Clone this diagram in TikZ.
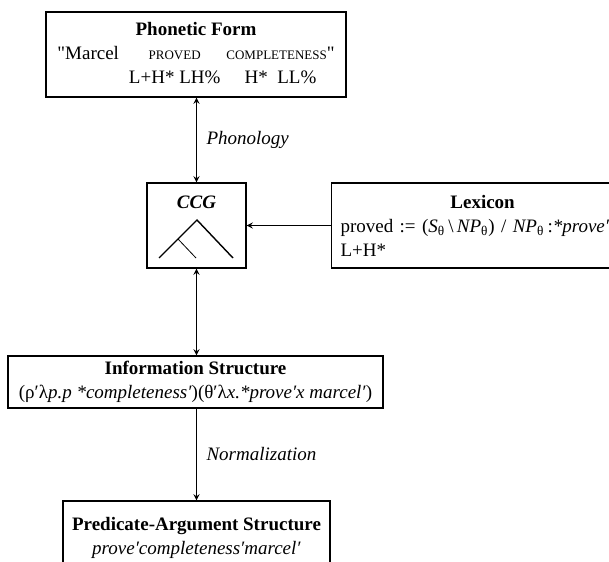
\documentclass[tikz,border=0pt]{standalone}
\usepackage{fontspec}
\setmainfont{Liberation Serif}
\usetikzlibrary{positioning}
\begin{document}
\begin{tikzpicture}[>=stealth,x=0.5pt,y=-0.5pt,
		font=\fontsize{9.5}{12}\selectfont,
		box/.style={draw,line width=0.6pt,inner sep=0pt,align=center},
		lbl/.style={right,xshift=1.5pt,font=\fontsize{9.5}{12}\selectfont\itshape}]
		\useasboundingbox (0,0) rectangle (609,561);
		\node[box,minimum width=150pt,minimum height=42.5pt] (phon) at (196,54.5) {\begin{tabular}{@{}l@{\hspace{5pt}}c@{\hspace{3pt}}c@{}}
			\multicolumn{3}{c}{\textbf{Phonetic Form}}\\
			\textquotedbl Marcel & {\fontsize{6.5}{8}\selectfont PROVED} & {\fontsize{6.5}{8}\selectfont COMPLETENESS}\textquotedbl\\
			& L+H* LH\% & H*\enspace LL\%
			\end{tabular}};
		\node[box,minimum width=49.5pt,minimum height=42.5pt] (ccg) at (196.5,225.5) {};
		\node[font=\fontsize{9.5}{12}\selectfont\bfseries\itshape] (ccgname) at (196.5,202) {CCG};
		\draw[line width=0.7pt] (ccg.center) ++(-37.5,32.5) -- ++(38,-38) -- ++(36,38);
		\draw[line width=0.4pt] (ccg.center) ++(-18.5,13.5) -- ++(18,19);
		\node[box,anchor=west,inner xsep=4.5pt,text width=142pt,align=left,minimum height=42.5pt] (lex) at (331,225.5) {\makebox[\linewidth]{\textbf{Lexicon}}\\
			proved := (\textit{S}\textsubscript{θ}\,\textbackslash\,\textit{NP}\textsubscript{θ}) / \textit{NP}\textsubscript{θ}\,:\textit{*prove′}\\
			L+H*};
		\node[box,minimum width=187.5pt,minimum height=26pt] (info) at (195.5,382) {\raisebox{-2pt}{\begin{tabular}{@{}c@{}}\textbf{Information Structure}\\
			(ρ′λ\textit{p.p *completeness′})(θ′λ\textit{x.*prove′x marcel′})\end{tabular}}};
		\node[box,minimum width=133.5pt,minimum height=37pt] (pas) at (196.5,538) {\textbf{Predicate-Argument Structure}\\
			\textit{prove′completeness′marcel′}};
		\draw[<->,line width=0.4pt] (ccg.north |- phon.south) -- node[lbl] {Phonology} (ccg.north);
		\draw[->,line width=0.4pt] (lex) -- (ccg);
		\draw[<->,line width=0.4pt] (ccg.south) -- (ccg.south |- info.north);
		\draw[->,line width=0.4pt] (pas.north |- info.south) -- node[lbl] {Normalization} (pas.north);
\end{tikzpicture}
\end{document}
